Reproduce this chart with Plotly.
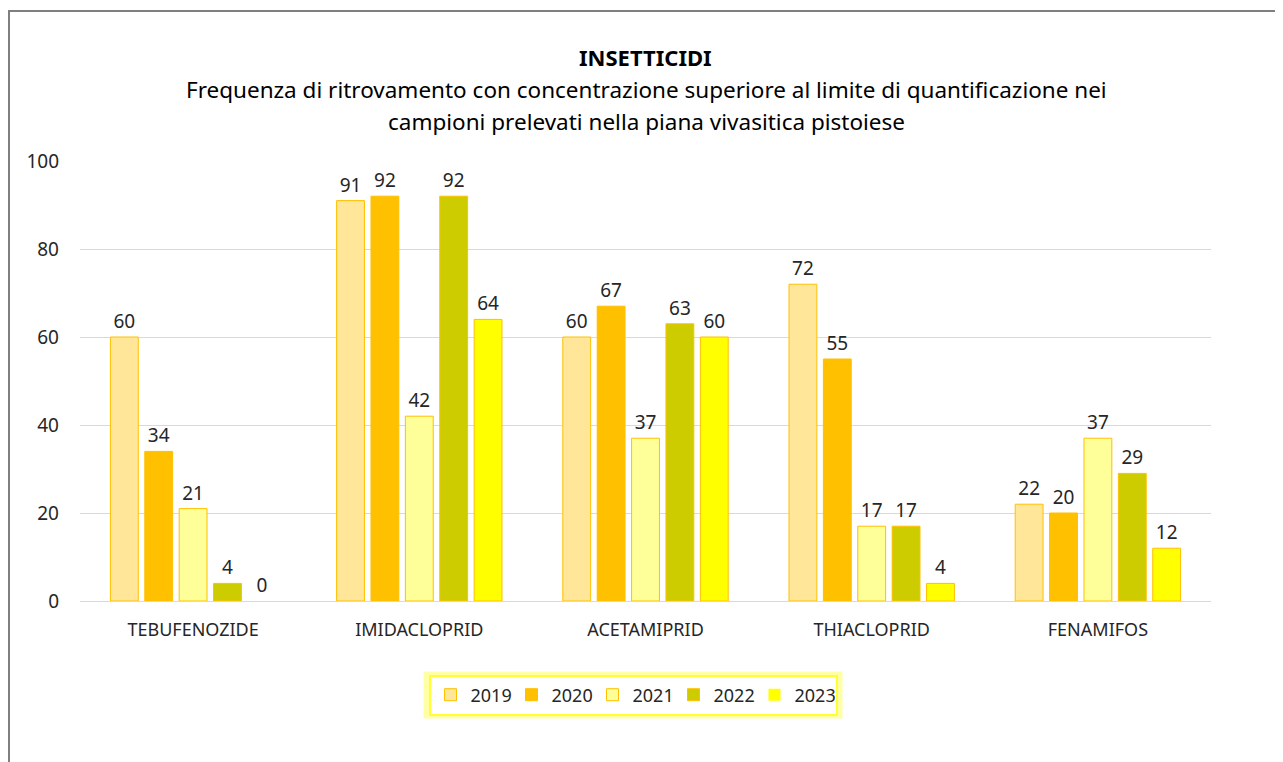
import plotly.graph_objects as go

# data
categories = ["TEBUFENOZIDE", "IMIDACLOPRID", "ACETAMIPRID", "THIACLOPRID", "FENAMIFOS"]
years = ["2019", "2020", "2021", "2022", "2023"]
values_2019 = [60, 91, 60, 72, 22]
values_2020 = [34, 92, 67, 55, 20]
values_2021 = [21, 42, 37, 17, 37]
values_2022 = [4, 92, 63, 17, 29]
values_2023 = [0, 64, 60, 4, 12]
y_ticks = [0, 20, 40, 60, 80, 100]

series = [values_2019, values_2020, values_2021, values_2022, values_2023]
fills = ["#FFE699", "#FFC000", "#FFFF99", "#CCCC00", "#FFFF00"]

FONT = "Noto Sans"
TEXT_COL = "#262626"

# the page adds an 8px body margin, so pixel targets are shifted by that
OFF = 8
W, H = 1283, 762
ML, MT = 80 - OFF, 161 - OFF
PW, PH = 1131, 440
MR, MB = W - ML - PW, H - MT - PH


def px_x(x):
    return (x - OFF - ML) / PW


def px_y(y):
    return (MT + PH - (y - OFF)) / PH


fig = go.Figure()

for year, vals, col in zip(years, series, fills):
    fig.add_trace(go.Bar(
        x=categories,
        y=vals,
        name=year,
        marker=dict(color=col,
                    line=dict(color="#FFC000", width=[1 if v else 0 for v in vals])),
        text=vals,
        textposition="outside",
        textfont=dict(family=FONT, size=19, color=TEXT_COL),
        cliponaxis=False,
    ))

# titles
fig.add_annotation(text="<b>INSETTICIDI</b>", x=px_x(645), y=px_y(57),
                   xref="paper", yref="paper", showarrow=False, yanchor="middle",
                   font=dict(family=FONT, size=22, color="#000000"))
fig.add_annotation(text="Frequenza di ritrovamento con concentrazione superiore al limite di quantificazione nei",
                   x=px_x(646), y=px_y(89), xref="paper", yref="paper", showarrow=False, yanchor="middle",
                   font=dict(family=FONT, size=22.5, color="#000000"))
fig.add_annotation(text="campioni prelevati nella piana vivasitica pistoiese",
                   x=px_x(646), y=px_y(121), xref="paper", yref="paper", showarrow=False, yanchor="middle",
                   font=dict(family=FONT, size=22.5, color="#000000"))

# outer chart frame
fig.add_shape(type="rect", xref="paper", yref="paper",
              x0=px_x(9), x1=px_x(1300), y0=px_y(780), y1=px_y(11),
              line=dict(color="#7F7F7F", width=2), fillcolor="rgba(0,0,0,0)", layer="below")

# soft glow round the legend box
fig.add_shape(type="rect", xref="paper", yref="paper",
              x0=px_x(427), x1=px_x(839), y0=px_y(715), y1=px_y(675),
              line=dict(color="rgba(255,255,0,0.35)", width=7), fillcolor="rgba(0,0,0,0)", layer="below")

fig.update_layout(
    width=W,
    height=H,
    margin=dict(l=ML, r=MR, t=MT, b=MB),
    paper_bgcolor="white",
    plot_bgcolor="white",
    barmode="group",
    bargap=0.24,
    bargroupgap=0.19,
    showlegend=True,
    legend=dict(
        orientation="h",
        x=px_x(633), y=px_y(695),
        xanchor="center", yanchor="middle",
        bgcolor="white",
        bordercolor="#FFFF33",
        borderwidth=2,
        font=dict(family=FONT, size=18, color=TEXT_COL),
        itemwidth=30,
        entrywidth=36,
        entrywidthmode="pixels",
        traceorder="normal",
    ),
    xaxis=dict(
        showline=False,
        ticks="",
        tickfont=dict(family=FONT, size=18, color=TEXT_COL),
        ticklabelstandoff=16,
    ),
    yaxis=dict(
        range=[0, 100],
        tickvals=y_ticks,
        showgrid=True,
        gridcolor="#D9D9D9",
        gridwidth=1,
        zeroline=True,
        zerolinecolor="#D9D9D9",
        zerolinewidth=1,
        showline=False,
        ticks="",
        tickfont=dict(family=FONT, size=19, color=TEXT_COL),
        ticklabelstandoff=20,
    ),
)

fig.write_html("out.html")
